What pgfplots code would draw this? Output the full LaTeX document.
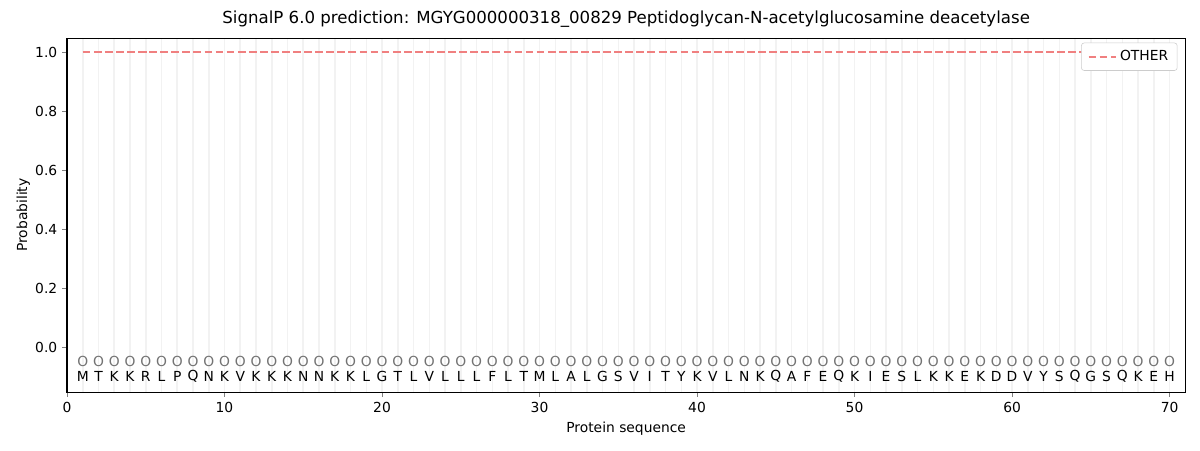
\documentclass[border=0pt]{standalone}
\usepackage{pgfplots}
\pgfplotsset{compat=1.18}
\usepackage{pgfplotstable}
\usepackage{fontspec}
\setmainfont{DejaVu Sans}
\definecolor{otherred}{RGB}{240,128,128}
\definecolor{gridc}{RGB}{242,242,242}
\pgfplotstableread{
x aa
1 M
2 T
3 K
4 K
5 R
6 L
7 P
8 Q
9 N
10 K
11 V
12 K
13 K
14 K
15 N
16 N
17 K
18 K
19 L
20 G
21 T
22 L
23 V
24 L
25 L
26 L
27 F
28 L
29 T
30 M
31 L
32 A
33 L
34 G
35 S
36 V
37 I
38 T
39 Y
40 K
41 V
42 L
43 N
44 K
45 Q
46 A
47 F
48 E
49 Q
50 K
51 I
52 E
53 S
54 L
55 K
56 K
57 E
58 K
59 D
60 D
61 V
62 Y
63 S
64 Q
65 G
66 S
67 Q
68 K
69 E
70 H
}\seqtable
\begin{document}
\begin{tikzpicture}
\useasboundingbox (-48.4pt,-41.9pt) rectangle (818.6pt,283.3pt);
\begin{axis}[
  at={(0,0)}, anchor=south west,
  scale only axis, width=808pt, height=255.8pt,
  xmin=0, xmax=71, ymin=-0.1525, ymax=1.0475,
  xtick={0,10,...,70},
  ytick={0,0.2,...,1.0},
  minor x tick num=9,
  xminorgrids=true, xmajorgrids=true,
  minor grid style={gridc, line width=1.1pt},
  x grid style={gridc, line width=1.1pt},
  minor tick length=0pt,
  yticklabel style={/pgf/number format/.cd, fixed, fixed zerofill, precision=1},
  /pgf/number format/assume math mode=true,
  tick align=outside, major tick length=3.5pt,
  xtick pos=bottom, ytick pos=left,
  tick label style={font=\fontsize{10}{12}\selectfont},
  label style={font=\fontsize{10}{12}\selectfont},
  xlabel={Protein sequence}, ylabel={Probability},
  xlabel style={yshift=0pt},
  ylabel style={yshift=-3pt},
  title={SignalP 6.0 prediction: MGYG000000318\_00829 Peptidoglycan-N-acetylglucosamine deacetylase},
  title style={font=\fontsize{12}{14}\selectfont, yshift=-2pt},
  legend style={at={(0.993,0.987)}, anchor=north east, draw=black!20, rounded corners=2pt, font=\fontsize{10}{12}\selectfont, inner xsep=4.5pt, inner ysep=3.5pt},
  legend cell align=left,
  legend image code/.code={\draw[#1] (0pt,0pt) -- (20pt,0pt);},
  axis line style={line width=0.8pt},
  clip=false,
]
\addplot[otherred, line width=1.45pt, dash pattern=on 5.6pt off 2.4pt] table[x=x, y expr=1.0] {\seqtable};
\addlegendentry{OTHER}
\addplot[only marks, mark=none, point meta=x, nodes near coords={O},
  nodes near coords style={anchor=center, text=black!55, font=\fontsize{10}{12}\selectfont}] table[x=x, y expr=-0.047] {\seqtable};
\addplot[only marks, mark=none, nodes near coords, point meta=explicit symbolic,
  nodes near coords style={anchor=center, text=black, font=\fontsize{10}{12}\selectfont}] table[x=x, y expr=-0.098, meta=aa] {\seqtable};
\end{axis}
\end{tikzpicture}
\end{document}
